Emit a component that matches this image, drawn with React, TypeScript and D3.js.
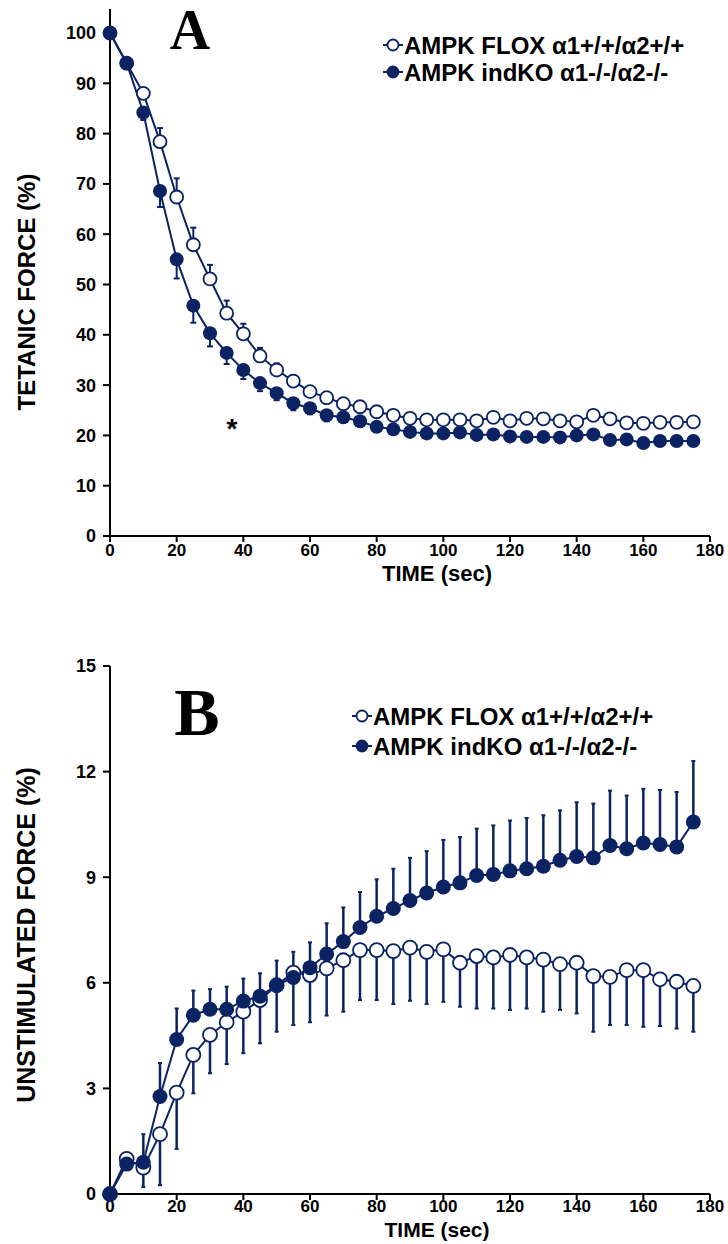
import React from "react";
import * as d3 from "d3";

// time points (sec)
const timeSec = [0, 5, 10, 15, 20, 25, 30, 35, 40, 45, 50, 55, 60, 65, 70, 75, 80, 85, 90, 95, 100, 105, 110, 115, 120, 125, 130, 135, 140, 145, 150, 155, 160, 165, 170, 175];

// panel A - tetanic force (%)
const floxTetanic = [100, 94, 88, 78.4, 67.4, 57.9, 51.1, 44.3, 40.2, 35.8, 33, 30.8, 28.7, 27.5, 26.3, 25.7, 24.7, 24, 23.4, 23.1, 23.1, 23.1, 22.9, 23.6, 22.9, 23.4, 23.3, 22.9, 22.7, 24, 23.3, 22.5, 22.4, 22.6, 22.6, 22.7];
const koTetanic = [100, 94, 84.2, 68.6, 55, 45.8, 40.3, 36.4, 33, 30.4, 28.4, 26.4, 25.4, 24, 23.6, 22.8, 21.7, 21.2, 20.7, 20.4, 20.4, 20.6, 20.1, 20.2, 19.8, 19.7, 19.7, 19.6, 20, 20.2, 19.1, 19.2, 18.5, 18.9, 18.9, 18.9];
const floxTetanicErr = [0, 0.4, 0.8, 2.7, 3.7, 3.4, 2.8, 2.5, 2, 1.6, 1.3, 1.2, 1.1, 1, 1, 0.9, 0.9, 0.9, 0.8, 0.8, 0.8, 0.8, 0.8, 0.9, 0.8, 0.8, 0.8, 0.8, 0.8, 1, 0.8, 0.8, 0.8, 0.8, 0.8, 0.8];
const koTetanicErr = [0, 0.5, 1.5, 3.2, 3.8, 3.4, 2.6, 2.2, 1.8, 1.6, 1.4, 1.4, 1.2, 1.2, 1, 1, 0.9, 0.9, 0.8, 0.8, 0.8, 0.8, 0.8, 0.8, 0.8, 0.8, 0.8, 0.8, 0.8, 0.8, 0.8, 0.8, 0.8, 0.8, 0.8, 0.8];

// panel B - unstimulated force (%)
const floxUnstim = [0, 1, 0.75, 1.7, 2.88, 3.95, 4.52, 4.88, 5.18, 5.51, 5.93, 6.29, 6.22, 6.41, 6.64, 6.93, 6.93, 6.9, 7, 6.88, 6.95, 6.57, 6.76, 6.72, 6.79, 6.72, 6.66, 6.53, 6.57, 6.19, 6.17, 6.36, 6.36, 6.1, 6.03, 5.91];
const koUnstim = [0, 0.85, 0.9, 2.77, 4.39, 5.08, 5.25, 5.25, 5.48, 5.62, 5.93, 6.15, 6.43, 6.82, 7.17, 7.57, 7.89, 8.11, 8.34, 8.55, 8.72, 8.84, 9.05, 9.08, 9.18, 9.24, 9.31, 9.48, 9.59, 9.55, 9.9, 9.81, 9.97, 9.93, 9.86, 10.57];
const floxUnstimErr = [0, 0.3, 0.55, 1.45, 1.6, 1.09, 1.09, 1.19, 1.18, 1.23, 1.32, 1.49, 1.34, 1.34, 1.46, 1.42, 1.42, 1.5, 1.51, 1.48, 1.49, 1.25, 1.49, 1.45, 1.56, 1.45, 1.48, 1.3, 1.44, 1.58, 1.37, 1.56, 1.61, 1.33, 1.33, 1.3];
const koUnstimErr = [0, 0.3, 0.8, 0.95, 0.88, 0.7, 0.57, 0.64, 0.64, 0.65, 0.7, 0.73, 0.72, 0.87, 0.97, 1.01, 1.05, 1.13, 1.21, 1.19, 1.34, 1.3, 1.33, 1.39, 1.43, 1.44, 1.45, 1.42, 1.54, 1.54, 1.56, 1.51, 1.54, 1.55, 1.56, 1.73];

const xTicks = [0, 20, 40, 60, 80, 100, 120, 140, 160, 180];
const yTicksA = [0, 10, 20, 30, 40, 50, 60, 70, 80, 90, 100];
const yTicksB = [0, 3, 6, 9, 12, 15];

const legendLabels = ["AMPK FLOX α1+/+/α2+/+", "AMPK indKO α1-/-/α2-/-"];

const navy = "#0b2263";
const font = "'Liberation Sans', Arial, sans-serif";

type PanelProps = {
  letter: string;
  letterX: number;
  letterY: number;
  letterSize: number;
  yTitle: string;
  yTitleY: number;
  yTitleSize: number;
  yDomain: [number, number];
  yRange: [number, number];
  yTicks: number[];
  axisTop: number;
  flox: number[];
  ko: number[];
  floxErr: number[];
  koErr: number[];
  floxErrDir: number; // 1 = up, -1 = down
  koErrDir: number;
  legendX: number;
  legendY: number[];
  tickGap: number;
  titleGap: number;
  xTitleSize: number;
  r: number;
  errWidth: number;
  capW: number;
};

function Panel(p: PanelProps) {
  const x = d3.scaleLinear().domain([0, 180]).range([110, 710]);
  const y = d3.scaleLinear().domain(p.yDomain).range(p.yRange);
  const line = d3
    .line<number>()
    .x((d, i) => x(timeSec[i]))
    .y((d) => y(d));
  const y0 = p.yRange[0];

  const errBars = (vals: number[], errs: number[], dir: number) =>
    vals.map((v, i) => {
      if (!errs[i]) return null;
      const ye = y(v + dir * errs[i]);
      return (
        <g key={i}>
          <line x1={x(timeSec[i])} x2={x(timeSec[i])} y1={y(v)} y2={ye} stroke={navy} strokeWidth={p.errWidth} />
          <line x1={x(timeSec[i]) - p.capW} x2={x(timeSec[i]) + p.capW} y1={ye} y2={ye} stroke={navy} strokeWidth={2} />
        </g>
      );
    });

  return (
    <g>
      {/* axes */}
      <line x1={110} x2={110} y1={p.axisTop} y2={y0} stroke="#000" strokeWidth={2} />
      <line x1={110} x2={710} y1={y0} y2={y0} stroke="#000" strokeWidth={2} />
      {p.yTicks.map((t) => (
        <g key={t} transform={`translate(110,${y(t)})`}>
          <line x1={-7} x2={0} stroke="#000" strokeWidth={2} />
          <text x={-14} dy=".36em" textAnchor="end" fontFamily={font} fontWeight="bold" fontSize={18}>
            {t}
          </text>
        </g>
      ))}
      {xTicks.map((t) => (
        <g key={t} transform={`translate(${x(t)},${y0})`}>
          <line y1={0} y2={6} stroke="#000" strokeWidth={2} />
          <text y={p.tickGap} dy=".36em" textAnchor="middle" fontFamily={font} fontWeight="bold" fontSize={17}>
            {t}
          </text>
        </g>
      ))}
      <text x={437} y={y0 + p.titleGap} dy=".36em" textAnchor="middle" fontFamily={font} fontWeight="bold" fontSize={p.xTitleSize}>
        TIME (sec)
      </text>
      <text transform={`translate(26,${p.yTitleY}) rotate(-90)`} dy=".36em" textAnchor="middle" fontFamily={font} fontWeight="bold" fontSize={p.yTitleSize}>
        {p.yTitle}
      </text>

      {/* error bars */}
      {errBars(p.flox, p.floxErr, p.floxErrDir)}
      {errBars(p.ko, p.koErr, p.koErrDir)}

      {/* lines */}
      <path d={line(p.flox) || ""} fill="none" stroke={navy} strokeWidth={2} />
      <path d={line(p.ko) || ""} fill="none" stroke={navy} strokeWidth={2} />

      {/* markers */}
      {p.flox.map((v, i) => (
        <circle key={"f" + i} cx={x(timeSec[i])} cy={y(v)} r={p.r - 0.5} fill="#fff" stroke={navy} strokeWidth={1.8} />
      ))}
      {p.ko.map((v, i) => (
        <circle key={"k" + i} cx={x(timeSec[i])} cy={y(v)} r={p.r} fill={navy} />
      ))}

      {/* legend */}
      {legendLabels.map((lab, i) => (
        <g key={lab} transform={`translate(${p.legendX},${p.legendY[i]})`}>
          <line x1={-10} x2={10} stroke={navy} strokeWidth={2} />
          <circle r={5.5} fill={i === 0 ? "#fff" : navy} stroke={navy} strokeWidth={1.8} />
          <text x={11} dy=".36em" fontFamily={font} fontWeight="bold" fontSize={24}>
            {lab}
          </text>
        </g>
      ))}

      <text x={p.letterX} y={p.letterY} textAnchor="middle" fontFamily="'Liberation Serif', 'Times New Roman', serif" fontWeight="bold" fontSize={p.letterSize}>
        {p.letter}
      </text>
    </g>
  );
}

export default function App() {
  return (
    <svg width={728} height={1244} style={{ position: "absolute", left: 0, top: 0, background: "#fff" }}>
      <Panel
        letter="A"
        letterX={190}
        letterY={49}
        letterSize={56}
        yTitle="TETANIC FORCE (%)"
        yTitleY={292}
        yTitleSize={24}
        yDomain={[0, 100]}
        yRange={[536, 33]}
        yTicks={yTicksA}
        axisTop={9}
        flox={floxTetanic}
        ko={koTetanic}
        floxErr={floxTetanicErr}
        koErr={koTetanicErr}
        floxErrDir={1}
        koErrDir={-1}
        legendX={393}
        legendY={[45, 72]}
        tickGap={14}
        titleGap={37}
        xTitleSize={22}
        r={7}
        errWidth={2}
        capW={3}
      />
      <Panel
        letter="B"
        letterX={197}
        letterY={735}
        letterSize={68}
        yTitle="UNSTIMULATED FORCE (%)"
        yTitleY={935}
        yTitleSize={25}
        yDomain={[0, 15]}
        yRange={[1194, 666]}
        yTicks={yTicksB}
        axisTop={666}
        flox={floxUnstim}
        ko={koUnstim}
        floxErr={floxUnstimErr}
        koErr={koUnstimErr}
        floxErrDir={-1}
        koErrDir={1}
        legendX={362}
        legendY={[716, 746]}
        tickGap={12}
        titleGap={35}
        xTitleSize={21}
        r={7.5}
        errWidth={2.5}
        capW={2}
      />
      <text x={232} y={438} textAnchor="middle" fontFamily={font} fontWeight="bold" fontSize={28}>
        *
      </text>
    </svg>
  );
}
